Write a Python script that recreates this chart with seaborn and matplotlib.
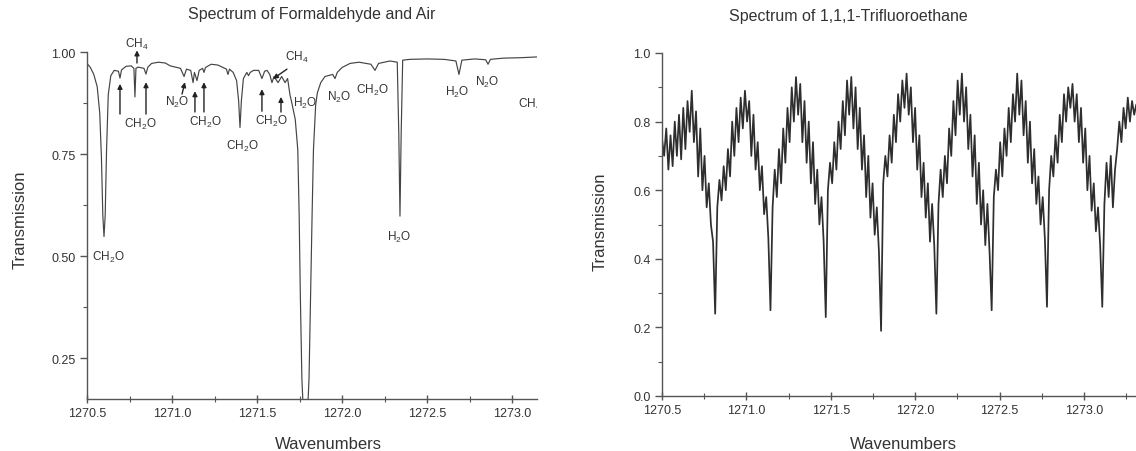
import numpy as np
import pandas as pd
import matplotlib
matplotlib.use("Agg")
import matplotlib.pyplot as plt
from matplotlib.ticker import MultipleLocator, FormatStrFormatter
import seaborn as sns

# ---------------- data: left panel (formaldehyde + air) ----------------
left_wn = [
    1270.500, 1270.520, 1270.540, 1270.560, 1270.575, 1270.585, 1270.593, 1270.600,
    1270.607, 1270.615, 1270.625, 1270.640, 1270.660, 1270.685, 1270.694, 1270.703,
    1270.730, 1270.760, 1270.776, 1270.782, 1270.788, 1270.800, 1270.835, 1270.847,
    1270.858, 1270.880, 1270.920, 1270.960, 1270.990, 1271.050, 1271.071, 1271.085,
    1271.110, 1271.124, 1271.132, 1271.147, 1271.160, 1271.180, 1271.188, 1271.197,
    1271.230, 1271.270, 1271.300, 1271.320, 1271.329, 1271.338, 1271.360, 1271.380,
    1271.392, 1271.400, 1271.408, 1271.420, 1271.440, 1271.450, 1271.460, 1271.480,
    1271.510, 1271.529, 1271.545, 1271.559, 1271.575, 1271.588, 1271.600, 1271.624,
    1271.645, 1271.665, 1271.680, 1271.694, 1271.705, 1271.725, 1271.740, 1271.748,
    1271.755, 1271.764, 1271.785, 1271.806, 1271.815, 1271.824, 1271.832, 1271.845,
    1271.855, 1271.875, 1271.900, 1271.945, 1271.959, 1271.972, 1272.000, 1272.047,
    1272.100, 1272.170, 1272.194, 1272.215, 1272.282, 1272.325, 1272.334, 1272.341,
    1272.348, 1272.357, 1272.400, 1272.500, 1272.600, 1272.670, 1272.688, 1272.705,
    1272.780, 1272.845, 1272.859, 1272.873, 1272.950, 1273.050, 1273.150,
]
left_tr = [
    0.972, 0.962, 0.945, 0.915, 0.850, 0.740, 0.600, 0.548,
    0.600, 0.760, 0.895, 0.942, 0.955, 0.953, 0.936, 0.956,
    0.965, 0.966, 0.960, 0.890, 0.960, 0.963, 0.960, 0.946,
    0.963, 0.972, 0.975, 0.973, 0.966, 0.960, 0.940, 0.958,
    0.955, 0.925, 0.950, 0.930, 0.955, 0.960, 0.950, 0.962,
    0.970, 0.968, 0.962, 0.958, 0.945, 0.958, 0.950, 0.930,
    0.880, 0.815, 0.880, 0.935, 0.950, 0.942, 0.950, 0.955,
    0.955, 0.935, 0.953, 0.955, 0.945, 0.925, 0.940, 0.925,
    0.940, 0.925, 0.935, 0.895, 0.875, 0.835, 0.760, 0.600,
    0.400, 0.200, 0.000, 0.200, 0.400, 0.600, 0.760, 0.870,
    0.900, 0.925, 0.940, 0.945, 0.935, 0.950, 0.962, 0.972,
    0.975, 0.970, 0.955, 0.972, 0.978, 0.975, 0.800, 0.598,
    0.800, 0.980, 0.982, 0.983, 0.982, 0.978, 0.945, 0.980,
    0.983, 0.981, 0.970, 0.982, 0.985, 0.986, 0.988,
]

# ---------------- data: right panel (1,1,1-trifluoroethane) ----------------
right_start = 1270.500
right_step = 0.0126
right_tr = [
    # before first dip
    0.75, 0.70, 0.78, 0.66, 0.76, 0.67, 0.80, 0.70, 0.82, 0.69,
    0.84, 0.72, 0.86, 0.77, 0.89, 0.74, 0.83, 0.64, 0.78, 0.60,
    0.70, 0.55, 0.62, 0.50, 0.45, 0.24,
    # period 1
    0.55, 0.63, 0.57, 0.67, 0.60, 0.72, 0.64, 0.80, 0.70, 0.84,
    0.74, 0.87, 0.78, 0.89, 0.80, 0.86, 0.70, 0.82, 0.66, 0.74,
    0.60, 0.67, 0.53, 0.58, 0.46, 0.25,
    # period 2
    0.55, 0.66, 0.58, 0.72, 0.62, 0.78, 0.68, 0.84, 0.74, 0.90,
    0.80, 0.93, 0.82, 0.91, 0.74, 0.86, 0.68, 0.80, 0.62, 0.74,
    0.56, 0.66, 0.50, 0.58, 0.45, 0.23,
    # period 3
    0.60, 0.68, 0.62, 0.74, 0.66, 0.80, 0.72, 0.86, 0.76, 0.92,
    0.82, 0.93, 0.78, 0.90, 0.72, 0.84, 0.66, 0.76, 0.58, 0.70,
    0.52, 0.62, 0.47, 0.55, 0.42, 0.19,
    # period 4
    0.62, 0.70, 0.64, 0.76, 0.68, 0.82, 0.74, 0.88, 0.80, 0.92,
    0.84, 0.94, 0.82, 0.90, 0.74, 0.84, 0.66, 0.76, 0.58, 0.68,
    0.52, 0.62, 0.45, 0.56, 0.44, 0.24,
    # period 5
    0.56, 0.66, 0.58, 0.70, 0.62, 0.78, 0.70, 0.86, 0.76, 0.92,
    0.82, 0.94, 0.80, 0.90, 0.72, 0.82, 0.64, 0.76, 0.56, 0.68,
    0.50, 0.60, 0.44, 0.56, 0.42, 0.25,
    # period 6
    0.58, 0.66, 0.60, 0.74, 0.64, 0.78, 0.70, 0.84, 0.74, 0.88,
    0.80, 0.94, 0.82, 0.92, 0.76, 0.86, 0.68, 0.80, 0.62, 0.72,
    0.56, 0.64, 0.50, 0.58, 0.46, 0.26,
    # period 7
    0.60, 0.70, 0.64, 0.76, 0.68, 0.82, 0.74, 0.88, 0.80, 0.90,
    0.84, 0.91, 0.80, 0.88, 0.74, 0.84, 0.68, 0.78, 0.60, 0.70,
    0.54, 0.62, 0.48, 0.55, 0.44, 0.26,
    # tail
    0.56, 0.68, 0.58, 0.70, 0.55, 0.66, 0.72, 0.80, 0.74, 0.84,
    0.78, 0.87, 0.80, 0.86, 0.82, 0.85,
]

# ---------------- annotations (left panel) ----------------
label_text = ["CH$_2$O", "CH$_4$", "CH$_2$O", "N$_2$O", "CH$_2$O", "CH$_2$O",
              "CH$_2$O", "CH$_4$", "H$_2$O", "N$_2$O", "CH$_2$O", "H$_2$O",
              "H$_2$O", "N$_2$O"]
label_x = [1270.624, 1270.794, 1270.812, 1271.029, 1271.194, 1271.412,
           1271.582, 1271.735, 1271.782, 1271.982, 1272.176, 1272.335,
           1272.676, 1272.853]
label_y = [0.498, 1.022, 0.824, 0.880, 0.831, 0.770,
           0.833, 0.990, 0.877, 0.890, 0.909, 0.547,
           0.904, 0.929]
arrow_tail = [(1270.794, 0.973), (1270.694, 0.848), (1270.847, 0.848),
              (1271.059, 0.897), (1271.135, 0.853), (1271.188, 0.853),
              (1271.529, 0.855), (1271.641, 0.853), (1271.676, 0.958)]
arrow_head = [(1270.794, 1.004), (1270.694, 0.922), (1270.847, 0.926),
              (1271.076, 0.926), (1271.135, 0.904), (1271.188, 0.926),
              (1271.529, 0.909), (1271.641, 0.890), (1271.594, 0.934)]

# ---------------- styling ----------------
sns.set_style("ticks")
plt.rcParams["font.family"] = ["Liberation Sans", "DejaVu Sans"]
plt.rcParams["mathtext.fontset"] = "custom"
plt.rcParams["mathtext.rm"] = "Liberation Sans"
plt.rcParams["mathtext.it"] = "Liberation Sans"
plt.rcParams["mathtext.default"] = "regular"

TXT = "#333333"
SPINE = "#555555"

fig = plt.figure(figsize=(11.36, 4.52), dpi=100)
axL = fig.add_axes([87 / 1136, 52 / 452, 450 / 1136, 347 / 452])
axR = fig.add_axes([662 / 1136, 55 / 452, 474 / 1136, 343 / 452])

dfL = pd.DataFrame({"wn": left_wn, "tr": left_tr})
sns.lineplot(data=dfL, x="wn", y="tr", ax=axL, color="#444444", lw=0.85,
             sort=False, estimator=None)

right_wn = right_start + right_step * np.arange(len(right_tr))
dfR = pd.DataFrame({"wn": right_wn, "tr": right_tr})
sns.lineplot(data=dfR, x="wn", y="tr", ax=axR, color="#2e2e2e", lw=1.25,
             sort=False, estimator=None)

axL.set_xlim(1270.5, 1273.147)
axL.set_ylim(0.15, 1.0)
axR.set_xlim(1270.5, 1273.308)
axR.set_ylim(0.0, 1.0)

axL.yaxis.set_major_locator(MultipleLocator(0.25))
axL.yaxis.set_minor_locator(MultipleLocator(0.125))
axL.yaxis.set_major_formatter(FormatStrFormatter("%.2f"))
axR.yaxis.set_major_locator(MultipleLocator(0.2))
axR.yaxis.set_minor_locator(MultipleLocator(0.1))
axR.yaxis.set_major_formatter(FormatStrFormatter("%.1f"))
for ax in (axL, axR):
    ax.xaxis.set_major_locator(MultipleLocator(0.5))
    ax.xaxis.set_minor_locator(MultipleLocator(0.25))
    ax.xaxis.set_major_formatter(FormatStrFormatter("%.1f"))
    ax.set_xlabel("")
    ax.set_ylabel("")
    sns.despine(ax=ax)
    for s in ("left", "bottom"):
        ax.spines[s].set_color(SPINE)
        ax.spines[s].set_linewidth(1.0)
    ax.tick_params(axis="x", which="major", direction="inout", length=6,
                   width=1.0, color=SPINE, labelsize=9, labelcolor=TXT, pad=3)
    ax.tick_params(axis="x", which="minor", direction="inout", length=4,
                   width=0.8, color=SPINE)
    ax.tick_params(axis="y", which="major", direction="out", length=5,
                   width=1.0, color=SPINE, labelsize=9, labelcolor=TXT, pad=3)
    ax.tick_params(axis="y", which="minor", direction="out", length=3,
                   width=0.8, color=SPINE)

# labels on left panel
for t, x, y in zip(label_text, label_x, label_y):
    axL.text(x, y, t, ha="center", va="center", fontsize=8.5, color=TXT,
             clip_on=False)
axL.text(1273.035, 0.875, "CH$_4$", ha="left", va="center", fontsize=8.5,
         color=TXT, clip_on=True)
for tail, head in zip(arrow_tail, arrow_head):
    axL.annotate("", xy=head, xytext=tail,
                 arrowprops=dict(arrowstyle="-|>", color="#222222", lw=1.0,
                                 mutation_scale=7, shrinkA=0, shrinkB=0),
                 annotation_clip=False)

# titles and axis labels
fig.text(312 / 1136, 1 - 15 / 452, "Spectrum of Formaldehyde and Air",
         ha="center", va="center", fontsize=11.5, color=TXT)
fig.text(848 / 1136, 1 - 17 / 452, "Spectrum of 1,1,1-Trifluoroethane",
         ha="center", va="center", fontsize=11.5, color=TXT)
fig.text(328 / 1136, 1 - 445 / 452, "Wavenumbers", ha="center", va="center",
         fontsize=12, color=TXT)
fig.text(903 / 1136, 1 - 445 / 452, "Wavenumbers", ha="center", va="center",
         fontsize=12, color=TXT)
fig.text(20 / 1136, 1 - 220 / 452, "Transmission", ha="center", va="center",
         rotation=90, fontsize=12, color=TXT)
fig.text(600 / 1136, 1 - 222 / 452, "Transmission", ha="center", va="center",
         rotation=90, fontsize=12, color=TXT)

fig.savefig("out.png", dpi=100, facecolor="white")
